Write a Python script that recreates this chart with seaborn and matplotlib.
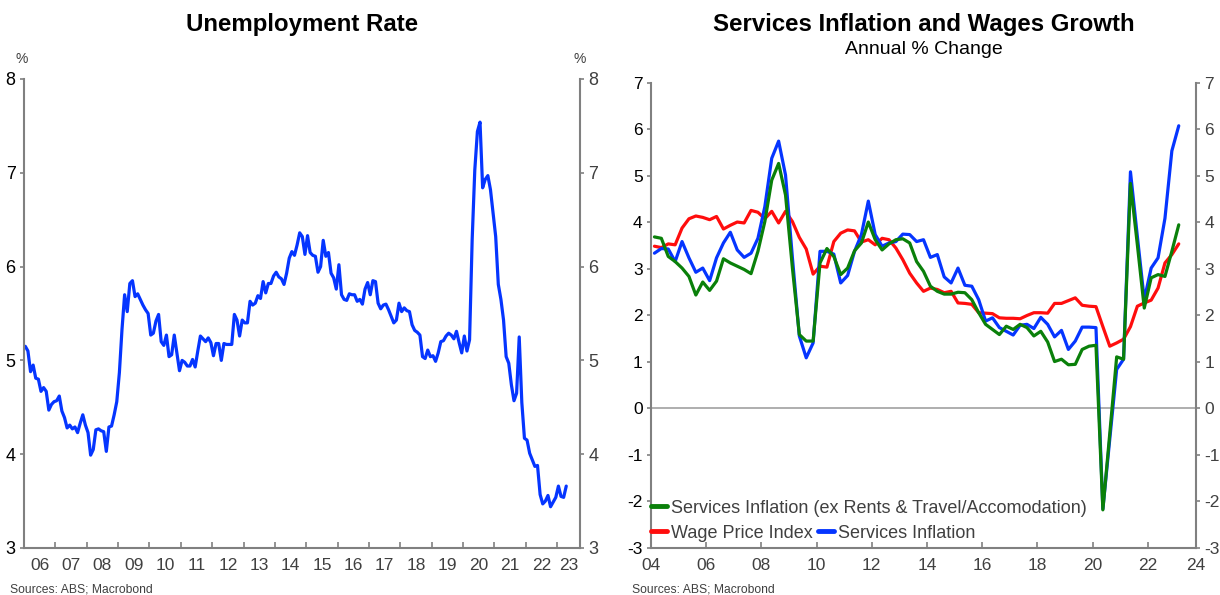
import numpy as np
import pandas as pd
import seaborn as sns
import matplotlib.pyplot as plt
from matplotlib.lines import Line2D

sns.set_style("ticks")
plt.rcParams['font.family'] = ['Liberation Sans', 'DejaVu Sans']
plt.rcParams['axes.unicode_minus'] = False

# -------------------------------------------------
# data
# -------------------------------------------------
# monthly unemployment rate, Jan 2006 -> Apr 2023
unemp = [5.15, 5.10, 4.88, 4.95, 4.81, 4.80, 4.67, 4.71, 4.67, 4.47,
         4.53, 4.56, 4.57, 4.62, 4.46, 4.39, 4.28, 4.31, 4.27, 4.29,
         4.23, 4.33, 4.42, 4.31, 4.23, 3.99, 4.05, 4.26, 4.27, 4.25,
         4.24, 4.03, 4.29, 4.30, 4.42, 4.56, 4.87, 5.33, 5.70, 5.52,
         5.82, 5.85, 5.68, 5.71, 5.65, 5.59, 5.54, 5.50, 5.27, 5.29,
         5.42, 5.49, 5.20, 5.16, 5.27, 5.04, 5.06, 5.27, 5.08, 4.89,
         5.00, 4.98, 4.94, 4.94, 5.01, 4.93, 5.10, 5.26, 5.23, 5.20,
         5.24, 5.19, 5.05, 5.18, 5.18, 5.00, 5.18, 5.17, 5.17, 5.17,
         5.49, 5.43, 5.26, 5.43, 5.40, 5.40, 5.63, 5.59, 5.61, 5.69,
         5.66, 5.84, 5.72, 5.82, 5.82, 5.90, 5.94, 5.89, 5.87, 5.81,
         5.93, 6.09, 6.16, 6.12, 6.23, 6.36, 6.32, 6.13, 6.33, 6.15,
         6.12, 6.11, 5.94, 6.00, 6.28, 6.11, 6.15, 5.93, 5.88, 5.76,
         6.02, 5.70, 5.65, 5.64, 5.71, 5.70, 5.70, 5.63, 5.65, 5.60,
         5.76, 5.83, 5.70, 5.85, 5.84, 5.61, 5.55, 5.59, 5.60, 5.54,
         5.47, 5.40, 5.43, 5.61, 5.52, 5.56, 5.53, 5.52, 5.38, 5.32,
         5.30, 5.27, 5.04, 5.02, 5.11, 5.04, 5.05, 4.99, 5.08, 5.20,
         5.21, 5.26, 5.29, 5.27, 5.23, 5.31, 5.19, 5.08, 5.26, 5.10,
         5.22, 6.29, 7.03, 7.44, 7.54, 6.84, 6.93, 6.97, 6.82, 6.57,
         6.32, 5.81, 5.65, 5.43, 5.04, 4.97, 4.74, 4.57, 4.65, 5.25,
         4.55, 4.17, 4.15, 4.01, 3.94, 3.87, 3.88, 3.57, 3.47, 3.50,
         3.56, 3.44, 3.49, 3.54, 3.66, 3.55, 3.54, 3.66]

# quarterly, 2004Q1 -> 2023Q1
svc_infl = [3.34, 3.44, 3.43, 3.16, 3.59, 3.24, 2.93, 3.02, 2.75, 3.24,
            3.56, 3.79, 3.41, 3.25, 3.34, 3.66, 4.34, 5.38, 5.75, 5.02,
            3.24, 1.56, 1.09, 1.41, 3.38, 3.38, 3.32, 2.70, 2.86, 3.38,
            3.74, 4.46, 3.74, 3.49, 3.56, 3.59, 3.75, 3.74, 3.59, 3.63,
            3.25, 3.31, 2.83, 2.70, 3.02, 2.65, 2.63, 2.34, 1.88, 1.95,
            1.74, 1.66, 1.58, 1.79, 1.81, 1.72, 1.96, 1.81, 1.54, 1.68,
            1.27, 1.45, 1.75, 1.75, 1.74, -2.16, -0.66, 0.84, 1.06, 5.09,
            3.70, 2.34, 3.02, 3.24, 4.09, 5.54, 6.08]

svc_ex = [3.69, 3.66, 3.27, 3.16, 3.02, 2.84, 2.44, 2.72, 2.54, 2.74,
          3.22, 3.13, 3.06, 2.99, 2.90, 3.38, 4.02, 4.91, 5.27, 4.59,
          3.02, 1.59, 1.45, 1.45, 3.13, 3.44, 3.27, 2.88, 3.02, 3.39,
          3.56, 4.01, 3.63, 3.41, 3.54, 3.63, 3.65, 3.56, 3.16, 2.95,
          2.63, 2.52, 2.46, 2.46, 2.50, 2.49, 2.34, 2.06, 1.81, 1.70,
          1.59, 1.77, 1.70, 1.81, 1.74, 1.56, 1.66, 1.43, 1.01, 1.06,
          0.94, 0.95, 1.27, 1.34, 1.36, -2.18, -0.54, 1.11, 1.06, 4.84,
          3.52, 2.16, 2.81, 2.88, 2.84, 3.38, 3.95]

wpi = [3.49, 3.46, 3.54, 3.52, 3.88, 4.08, 4.14, 4.11, 4.06, 4.13,
       3.86, 3.94, 4.01, 3.99, 4.26, 4.22, 4.08, 4.24, 3.99, 4.24,
       4.02, 3.68, 3.43, 2.89, 3.06, 3.04, 3.59, 3.77, 3.84, 3.82,
       3.58, 3.63, 3.52, 3.66, 3.63, 3.45, 3.20, 2.91, 2.70, 2.52,
       2.59, 2.56, 2.49, 2.52, 2.27, 2.26, 2.24, 2.06, 2.05, 2.04,
       1.95, 1.94, 1.94, 1.93, 2.00, 2.06, 2.06, 2.05, 2.26, 2.26,
       2.32, 2.38, 2.22, 2.20, 2.19, 1.76, 1.34, 1.41, 1.49, 1.76,
       2.20, 2.27, 2.33, 2.59, 3.13, 3.31, 3.54]

left_years = list(range(2006, 2024))
right_years = list(range(2004, 2023, 2))

months = pd.date_range("2006-01-01", periods=len(unemp), freq="MS")
df_u = pd.DataFrame({"t": months.year + (months.month - 0.5) / 12, "rate": unemp})
qtrs = pd.period_range("2004Q1", periods=len(wpi), freq="Q")
df_s = pd.DataFrame({"t": qtrs.year + (qtrs.quarter - 0.5) / 4,
                     "svc": svc_infl, "svc_ex": svc_ex, "wpi": wpi})

BLUE = "#0535ff"
GREEN = "#0a800a"
RED = "#ff0d0d"
GRAY = "#808080"
TXT = "#404040"

W, H = 1220, 595
fig = plt.figure(figsize=(W / 100, H / 100), dpi=100)
ax1 = fig.add_axes([24 / W, 1 - 548 / H, (580 - 24) / W, (548 - 79) / H])
ax2 = fig.add_axes([651 / W, 1 - 548 / H, (1196 - 651) / W, (548 - 83) / H])


def style_axes(ax):
    ax.spines["top"].set_visible(False)
    for s in ["left", "right", "bottom"]:
        ax.spines[s].set_visible(True)
        ax.spines[s].set_color(GRAY)
        ax.spines[s].set_linewidth(1.5)
    ax.tick_params(axis="y", which="major", left=True, right=True,
                   labelleft=True, labelright=True, direction="out",
                   length=3, width=1.2, color=GRAY, pad=3)
    ax.tick_params(axis="x", which="major", direction="in", length=4,
                   width=1.2, color=GRAY, labelsize=12, labelcolor=TXT, pad=7)
    ax.set_xlabel("")
    ax.set_ylabel("")


# ---------------- left: unemployment ----------------
sns.lineplot(data=df_u, x="t", y="rate", ax=ax1, color=BLUE, lw=2.3,
             estimator=None, sort=False, legend=False)
x1max = 2023.73
ax1.set_xlim(2006, x1max)
ax1.set_ylim(3, 8)
ax1.set_yticks(range(3, 9))
style_axes(ax1)
ax1.set_xticks(left_years)
ax1.set_xticklabels([])
mids = [y + 0.5 for y in left_years[:-1]] + [(left_years[-1] + x1max) / 2]
ax1.set_xticks(mids, minor=True)
ax1.set_xticklabels([str(y)[2:] for y in left_years], minor=True)
ax1.tick_params(axis="x", which="minor", length=0, labelsize=12.5,
                labelcolor=TXT, pad=7)
ax1.tick_params(axis="y", labelsize=13)
for t in ax1.yaxis.get_major_ticks():
    t.label1.set_color("black")
    t.label2.set_color(TXT)

# ---------------- right: services inflation & wages ----------------
ax2.axhline(0, color="#a8a8a8", lw=1.3, zorder=1)
sns.lineplot(data=df_s, x="t", y="wpi", ax=ax2, color=RED, lw=2.3,
             estimator=None, sort=False, legend=False)
sns.lineplot(data=df_s, x="t", y="svc", ax=ax2, color=BLUE, lw=2.3,
             estimator=None, sort=False, legend=False)
sns.lineplot(data=df_s, x="t", y="svc_ex", ax=ax2, color=GREEN, lw=2.3,
             estimator=None, sort=False, legend=False)
x2max = 2023.75
ax2.set_xlim(2004, x2max)
ax2.set_ylim(-3, 7)
ax2.set_yticks(range(-3, 8))
style_axes(ax2)
ax2.set_xticks(right_years + [x2max])
ax2.set_xticklabels([str(y)[2:] for y in right_years] + ["24"])
ax2.tick_params(axis="x", labelsize=12.5)
ax2.tick_params(axis="y", labelsize=12.5)
for t in ax2.yaxis.get_major_ticks():
    t.label1.set_color("black")
    t.label2.set_color(TXT)

leg_kw = dict(frameon=False, borderpad=0, borderaxespad=0, fontsize=13,
              handlelength=0.9, handletextpad=0.2, labelcolor=TXT)
leg1 = ax2.legend(handles=[Line2D([], [], color=GREEN, lw=3.5)],
                  labels=["Services Inflation (ex Rents & Travel/Accomodation)"],
                  loc="center left", bbox_to_anchor=(0, 0.086), **leg_kw)
ax2.add_artist(leg1)
ax2.legend(handles=[Line2D([], [], color=RED, lw=3.5),
                    Line2D([], [], color=BLUE, lw=3.5)],
           labels=["Wage Price Index", "Services Inflation"], ncol=2,
           columnspacing=0.3, loc="center left",
           bbox_to_anchor=(0, 0.032), **leg_kw)

# ---------------- titles & notes ----------------
fig.text(302 / W, 1 - 25 / H, "Unemployment Rate", ha="center", va="center",
         fontsize=17.3, fontweight="bold", color="black")
fig.text(924 / W, 1 - 25 / H, "Services Inflation and Wages Growth",
         ha="center", va="center", fontsize=17.3, fontweight="bold",
         color="black")
fig.text(924 / W, 1 - 50 / H, "Annual % Change", ha="center", va="center",
         fontsize=14, color="black")
fig.text(22 / W, 1 - 59 / H, "%", ha="center", va="center", fontsize=10,
         color=TXT)
fig.text(580 / W, 1 - 59 / H, "%", ha="center", va="center", fontsize=10,
         color=TXT)
fig.text(10 / W, 1 - 589 / H, "Sources: ABS; Macrobond", ha="left",
         va="center", fontsize=8.7, color=TXT)
fig.text(632 / W, 1 - 589 / H, "Sources: ABS; Macrobond", ha="left",
         va="center", fontsize=8.7, color=TXT)

fig.savefig("out.png", dpi=100)
